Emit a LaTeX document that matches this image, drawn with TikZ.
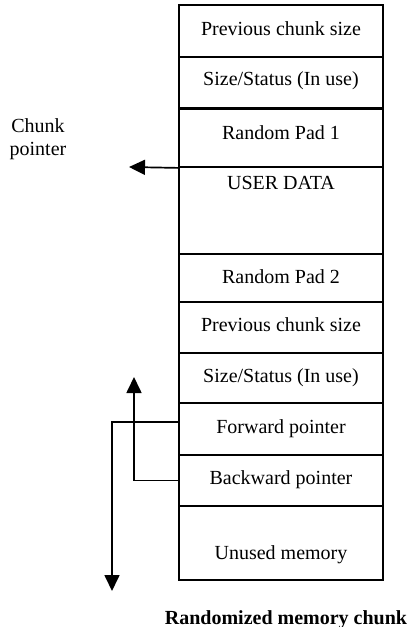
\documentclass[tikz,border=0pt]{standalone}
\usepackage{fontspec}
\setmainfont{Liberation Serif}
\usetikzlibrary{arrows.meta,calc}
\begin{document}
\begin{tikzpicture}[x=1pt,y=-1pt,
  cell/.style={draw, line width=1.8pt, minimum width=204pt, inner sep=0pt, anchor=center},
  txt/.style={anchor=base, inner sep=0pt, font=\fontsize{20}{23}\selectfont},
  ptr/.style={line width=1.7pt, -{Triangle[length=16pt,width=15pt]}}]
\useasboundingbox (0,0) rectangle (408,627);

% memory chunk cells, top to bottom
\node[cell, minimum height=52pt] (prev1)  at (281,31)    {};
\node[cell, minimum height=51pt] (size1)  at (281,82.5)  {};
\node[cell, minimum height=59pt] (rp1)    at (281,137.5) {};
\node[cell, minimum height=87pt] (ud)     at (281,210.5) {};
\node[cell, minimum height=48pt] (rp2)    at (281,278)   {};
\node[cell, minimum height=51pt] (prev2)  at (281,327.5) {};
\node[cell, minimum height=50pt] (size2)  at (281,378)   {};
\node[cell, minimum height=52pt] (fwd)    at (281,429)   {};
\node[cell, minimum height=51pt] (bwd)    at (281,480.5) {};
\node[cell, minimum height=74pt] (unused) at (281,543)   {};

% heavier boundary between header and user part
\draw[line width=3pt] (size1.south west) -- (size1.south east);

% cell captions
\node[txt] (tprev1)  at (281,35)  {Previous chunk size};
\node[txt] (tsize1)  at (281,85)  {Size/Status (In use)};
\node[txt] (trp1)    at (281,139) {Random Pad 1};
\node[txt] (tud)     at (281,189) {USER DATA};
\node[txt] (trp2)    at (281,283) {Random Pad 2};
\node[txt] (tprev2)  at (281,331) {Previous chunk size};
\node[txt] (tsize2)  at (281,382) {Size/Status (In use)};
\node[txt] (tfwd)    at (281,433) {Forward pointer};
\node[txt] (tbwd)    at (281,484) {Backward pointer};
\node[txt] (tunused) at (281,559) {Unused memory};

% chunk pointer
\node[align=center, inner sep=0pt, font=\fontsize{20}{23}\selectfont] (cplabel) at (38,139) {Chunk\\pointer};
\coordinate (cptip) at (129,167);
\draw[ptr] (rp1.south west) -- (cptip);

% forward and backward links
\coordinate (fwout) at ($(fwd.west)+(0,-7)$);
\coordinate (fwtip) at (112,591);
\draw[ptr] (fwout) -| (fwtip);

\coordinate (bwtip) at (134,377);
\draw[ptr] (bwd.west) -| (bwtip);

% caption
\node[txt, font=\fontsize{20}{23}\selectfont\bfseries] (caption) at (286,624) {Randomized memory chunk};
\end{tikzpicture}
\end{document}
